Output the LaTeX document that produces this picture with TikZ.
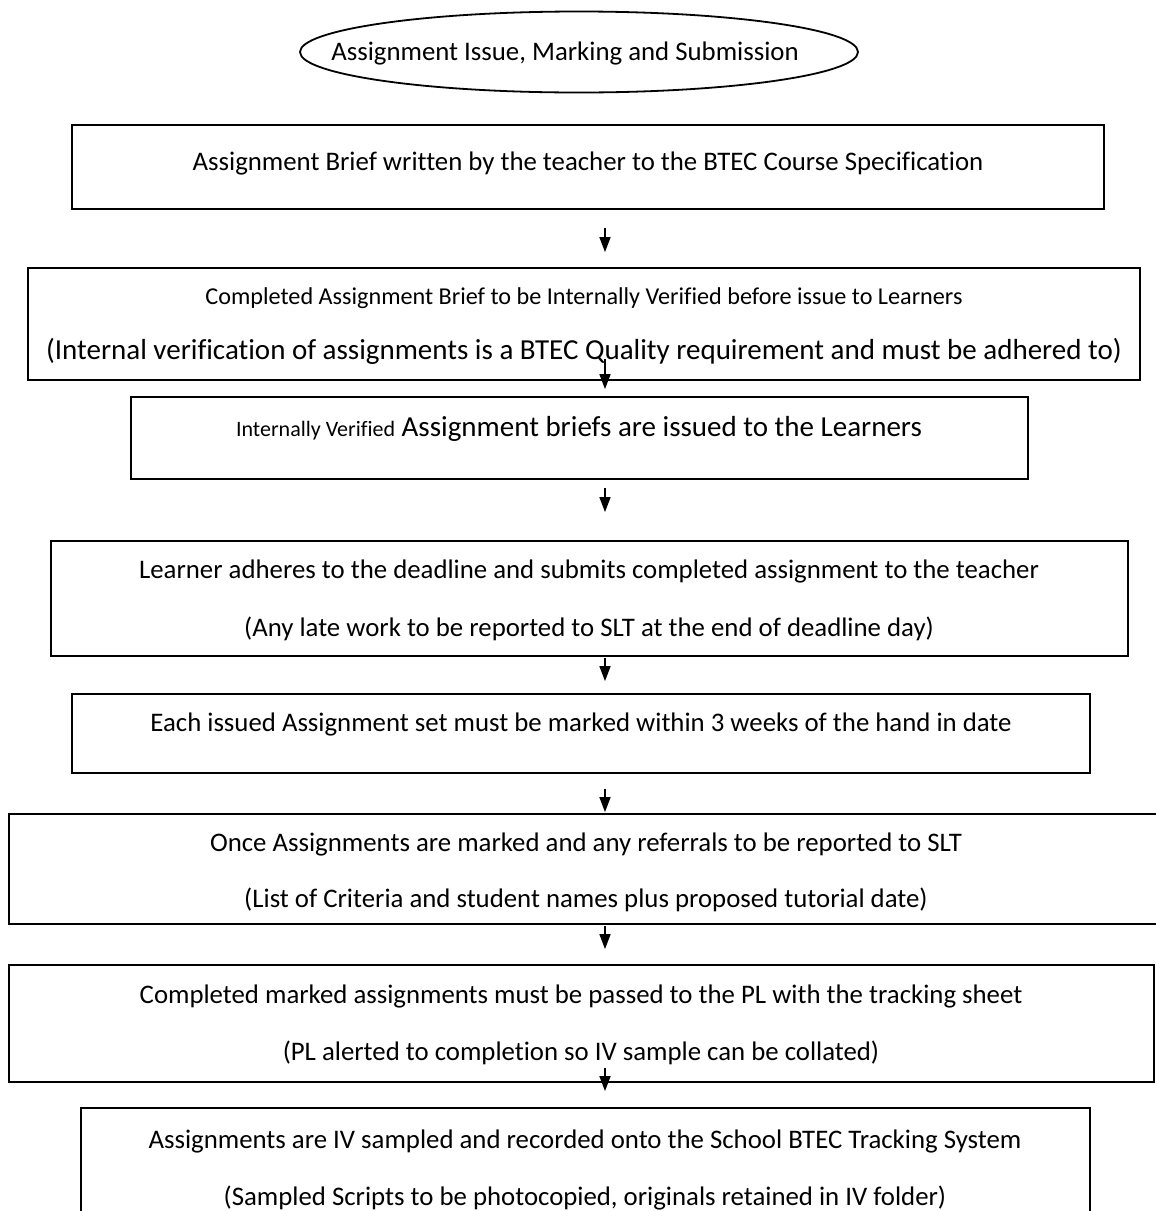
\documentclass[tikz,border=0pt]{standalone}
\usepackage{fontspec}
\setmainfont{Carlito}[Ligatures=NoCommon]
\usetikzlibrary{arrows.meta,shapes.geometric,calc}

\tikzset{
  stepbox/.style={draw, line width=1.8pt, inner sep=0pt},
  steptext/.style={anchor=base, inner sep=0pt, font=\fontsize{26.8}{30}\selectfont},
  smalltext/.style={anchor=base, inner sep=0pt, font=\fontsize{24.2}{28}\selectfont},
  bigtext/.style={anchor=base, inner sep=0pt, font=\fontsize{29}{33}\selectfont},
  flow/.style={line width=1.4pt, -{Triangle[width=11pt,length=15pt]}},
}
\newcommand{\flowbox}[5]{%
  \node[stepbox, minimum width={#4-#2}, minimum height={#5-#3}]
    (#1) at ({(#2+#4)/2},{(#3+#5)/2}) {};}

\begin{document}
\begin{tikzpicture}[x=1pt,y=-1pt]
\clip (0,0) rectangle (1156,1211);
\fill[white] (0,0) rectangle (1156,1211);
\coordinate (ax) at (605,0);

\node[stepbox, ellipse, minimum width=558, minimum height=81] (start) at (579,52) {};
\node[steptext] (tstart) at (565,60) {Assignment Issue, Marking and Submission};

\flowbox{brief}{72}{125}{1104}{209}
\node[steptext] (tbrief) at (588,170) {Assignment Brief written by the teacher to the BTEC Course Specification};

\flowbox{verify}{28}{268}{1140}{380}
\node[smalltext] (tverifya) at (584,304) {Completed Assignment Brief to be Internally Verified before issue to Learners};
\node[bigtext] (tverifyb) at (584,359) {(Internal verification of assignments is a BTEC Quality requirement and must be adhered to)};

\flowbox{issue}{131}{397}{1028}{479}
\node[bigtext] (tissue) at (579,436) {{\fontsize{22}{26}\selectfont Internally Verified} Assignment briefs are issued to the Learners};

\flowbox{submit}{51}{541}{1128}{656}
\node[steptext] (tsubmita) at (589,578) {Learner adheres to the deadline and submits completed assignment to the teacher};
\node[steptext] (tsubmitb) at (589,636) {(Any late work to be reported to SLT at the end of deadline day)};

\flowbox{mark}{72}{694}{1090}{773}
\node[steptext] (tmark) at (581,731) {Each issued Assignment set must be marked within 3 weeks of the hand in date};

\flowbox{refer}{9}{814}{1163}{924}
\node[steptext] (trefera) at (586,851) {Once Assignments are marked and any referrals to be reported to SLT};
\node[steptext] (treferb) at (586,907) {(List of Criteria and student names plus proposed tutorial date)};

\flowbox{pass}{9}{965}{1154}{1082}
\node[steptext] (tpassa) at (581,1003) {Completed marked assignments must be passed to the PL with the tracking sheet};
\node[steptext] (tpassb) at (581,1060) {(PL alerted to completion so IV sample can be collated)};

\flowbox{sample}{81}{1108}{1090}{1240}
\node[steptext] (tsamplea) at (585,1148) {Assignments are IV sampled and recorded onto the School BTEC Tracking System};
\node[steptext] (tsampleb) at (585,1205) {(Sampled Scripts to be photocopied, originals retained in IV folder)};

% arrows between the steps
\draw[flow] ($(brief.south -| ax)+(0,18)$) -- ($(verify.north -| ax)+(0,-15)$);
\draw[flow] ($(verify.south -| ax)+(0,-22)$) -- ($(issue.north -| ax)+(0,-7)$);
\draw[flow] ($(issue.south -| ax)+(0,8)$) -- ($(submit.north -| ax)+(0,-28)$);
\draw[flow] ($(submit.south -| ax)+(0,1)$) -- ($(mark.north -| ax)+(0,-12)$);
\draw[flow] ($(mark.south -| ax)+(0,15)$) -- ($(refer.north -| ax)+(0,-1)$);
\draw[flow] ($(refer.south -| ax)+(0,1)$) -- ($(pass.north -| ax)+(0,-15)$);
\draw[flow] ($(pass.south -| ax)+(0,-15)$) -- ($(sample.north -| ax)+(0,-16)$);
\end{tikzpicture}
\end{document}
